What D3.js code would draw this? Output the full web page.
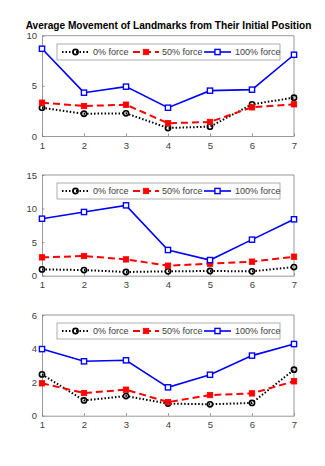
<!DOCTYPE html>
<html><head><meta charset="utf-8">
<script src="https://cdn.jsdelivr.net/npm/d3@7"></script>
<style>body{margin:0;background:#fff}svg{display:block}text{font-family:"Liberation Sans",Arial,sans-serif}</style>
</head><body><svg id="c" width="325" height="466"></svg>
<script>
const xCats = [1,2,3,4,5,6,7];
const seriesNames = ["0% force","50% force","100% force"];
const title = "Average Movement of Landmarks from Their Initial Position";
// Panel 1
const p1_zero = [2.82,2.22,2.26,0.80,0.93,3.16,3.82];
const p1_half = [3.32,2.99,3.12,1.27,1.40,2.86,3.16];
const p1_full = [8.70,4.32,4.92,2.82,4.52,4.62,8.10];
const p1_ticks = [0,5,10];
// Panel 2
const p2_zero = [0.94,0.84,0.55,0.65,0.70,0.65,1.29];
const p2_half = [2.73,2.93,2.43,1.49,1.79,2.09,2.83];
const p2_full = [8.49,9.49,10.48,3.83,2.33,5.37,8.40];
const p2_ticks = [0,5,10,15];
// Panel 3
const p3_zero = [2.46,0.91,1.17,0.72,0.68,0.76,2.74];
const p3_half = [1.93,1.35,1.55,0.81,1.23,1.33,2.05];
const p3_full = [3.97,3.24,3.30,1.69,2.44,3.58,4.27];
const p3_ticks = [0,2,4,6];

const panels = [
  {top:35.7, bottom:136, ticks:p1_ticks, data:[p1_zero,p1_half,p1_full], legY:44},
  {top:175, bottom:275.7, ticks:p2_ticks, data:[p2_zero,p2_half,p2_full], legY:183},
  {top:315, bottom:415.7, ticks:p3_ticks, data:[p3_zero,p3_half,p3_full], legY:323}
];
const styles = [
  {color:"#000", dash:"1.5,2", width:2, marker:"circle"},
  {color:"#ff0000", dash:"7,4", width:2, marker:"sqfill"},
  {color:"#0000ff", dash:null, width:1.6, marker:"sqopen"}
];
const svg = d3.select("#c");
const left = 42, right = 294;
const x = d3.scaleLinear().domain([1,7]).range([left,right]);
const axisCol = "#7f7f7f", labCol = "#404040";

svg.append("text").attr("x",168.5).attr("y",29.3).attr("text-anchor","middle")
  .attr("font-weight","bold").attr("font-size",10.1).attr("fill","#000").text(title);

function marker(g, type, cx, cy, color){
  if(type==="circle"){
    g.append("circle").attr("cx",cx).attr("cy",cy).attr("r",2.6)
      .attr("fill","none").attr("stroke",color).attr("stroke-width",1.6);
  } else if(type==="sqfill"){
    g.append("rect").attr("x",cx-2.7).attr("y",cy-2.7).attr("width",5.4).attr("height",5.4)
      .attr("fill",color).attr("stroke",color).attr("stroke-width",0.8);
  } else {
    g.append("rect").attr("x",cx-2.6).attr("y",cy-2.6).attr("width",5.2).attr("height",5.2)
      .attr("fill","#fff").attr("stroke",color).attr("stroke-width",1.4);
  }
}

panels.forEach(p=>{
  const ymax = p.ticks[p.ticks.length-1];
  const y = d3.scaleLinear().domain([0,ymax]).range([p.bottom,p.top]);
  const g = svg.append("g");
  const xa = g.append("g").attr("transform",`translate(0,${p.bottom})`)
    .call(d3.axisBottom(x).tickValues(xCats).tickFormat(d3.format("d")).tickSizeInner(-2.5).tickSizeOuter(0).tickPadding(6));
  const ya = g.append("g").attr("transform",`translate(${left},0)`)
    .call(d3.axisLeft(y).tickValues(p.ticks).tickFormat(d3.format("d")).tickSizeInner(-2.5).tickSizeOuter(0).tickPadding(5));
  [xa,ya].forEach(a=>{
    a.select(".domain").attr("stroke",axisCol).attr("stroke-width",0.8);
    a.selectAll(".tick line").attr("stroke",axisCol).attr("stroke-width",0.8);
    a.selectAll(".tick text").attr("fill",labCol).attr("font-size",9.5)
      .style("font-family","'Liberation Sans',Arial,sans-serif");
  });
  g.append("line").attr("x1",left).attr("x2",right).attr("y1",p.top).attr("y2",p.top)
    .attr("stroke",axisCol).attr("stroke-width",0.8);
  g.append("line").attr("x1",right).attr("x2",right).attr("y1",p.top).attr("y2",p.bottom)
    .attr("stroke",axisCol).attr("stroke-width",0.8);
  const line = d3.line().x((d,i)=>x(xCats[i])).y(d=>y(d));
  p.data.forEach((vals,si)=>{
    const s = styles[si];
    g.append("path").attr("d",line(vals)).attr("fill","none").attr("stroke",s.color)
      .attr("stroke-width",s.width).attr("stroke-dasharray",s.dash);
    vals.forEach((v,i)=>marker(g,s.marker,x(xCats[i]),y(v),s.color));
  });
  const lg = svg.append("g");
  const ly = p.legY, lh = 16;
  lg.append("rect").attr("x",57).attr("y",ly).attr("width",223).attr("height",lh)
    .attr("fill","#fff").attr("stroke","#9a9a9a").attr("stroke-width",0.8);
  const entries = [{x0:62,x1:89,tx:93},{x0:133,x1:159,tx:162},{x0:204,x1:231,tx:235}];
  entries.forEach((e,si)=>{
    const s = styles[si], cy = ly+lh/2;
    lg.append("line").attr("x1",e.x0).attr("x2",e.x1).attr("y1",cy).attr("y2",cy)
      .attr("stroke",s.color).attr("stroke-width",s.width).attr("stroke-dasharray",s.dash);
    marker(lg,s.marker,(e.x0+e.x1)/2,cy,s.color);
    lg.append("text").attr("x",e.tx).attr("y",cy+3.2).attr("font-size",9).attr("fill",labCol)
      .text(seriesNames[si]);
  });
});
</script></body></html>
